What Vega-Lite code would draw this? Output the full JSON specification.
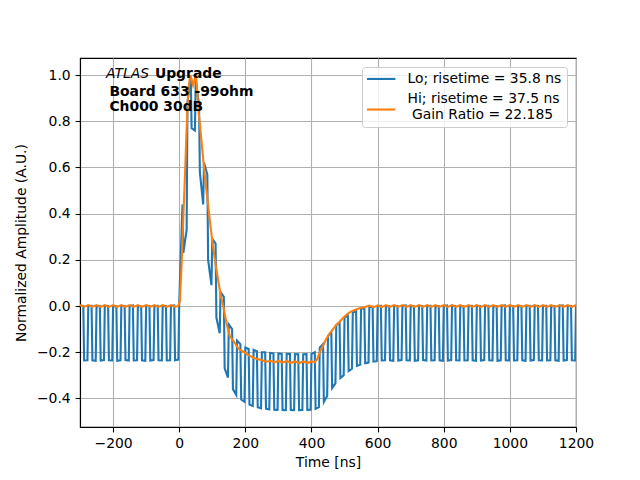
{
  "$schema": "https://vega.github.io/schema/vega-lite/v6.json",
  "width": 496,
  "height": 369,
  "autosize": {"type": "none"},
  "padding": {"left": 80, "top": 58, "right": 64, "bottom": 53},
  "background": "white",
  "config": {
    "font": "DejaVu Sans",
    "view": {"stroke": "black", "strokeWidth": 1.1},
    "axis": {
      "grid": true, "gridColor": "#b0b0b0", "gridWidth": 1.1,
      "domainColor": "black", "domainWidth": 1.1,
      "tickColor": "black", "tickWidth": 1.1, "tickSize": 4.9,
      "labelFont": "DejaVu Sans", "labelFontSize": 13.9, "labelColor": "black",
      "labelPadding": 4.9, "labelFlush": false, "labelOverlap": false,
      "titleFont": "DejaVu Sans", "titleFontSize": 13.9, "titleFontWeight": "normal", "titleColor": "black"
    }
  },
  "datasets": {
    "lo": [
      {"t":-300,"v":0.002},{"t":-290,"v":0},{"t":-287.5,"v":-0.236},{"t":-277.5,"v":-0.235},
      {"t":-275,"v":0},{"t":-265,"v":0.001},{"t":-262.5,"v":-0.235},{"t":-252.5,"v":-0.237},
      {"t":-250,"v":-0.001},{"t":-240,"v":0},{"t":-237.5,"v":-0.236},{"t":-227.5,"v":-0.234},
      {"t":-225,"v":0.001},{"t":-215,"v":0},{"t":-212.5,"v":-0.235},{"t":-202.5,"v":-0.236},
      {"t":-200,"v":0},{"t":-190,"v":-0.001},{"t":-187.5,"v":-0.237},{"t":-177.5,"v":-0.235},
      {"t":-175,"v":0.001},{"t":-165,"v":0},{"t":-162.5,"v":-0.234},{"t":-152.5,"v":-0.236},
      {"t":-150,"v":0},{"t":-140,"v":0.002},{"t":-137.5,"v":-0.236},{"t":-127.5,"v":-0.235},
      {"t":-125,"v":0},{"t":-115,"v":-0.001},{"t":-112.5,"v":-0.235},{"t":-102.5,"v":-0.237},
      {"t":-100,"v":0.001},{"t":-90,"v":0},{"t":-87.5,"v":-0.236},{"t":-77.5,"v":-0.234},
      {"t":-75,"v":0},{"t":-65,"v":0.001},{"t":-62.5,"v":-0.235},{"t":-52.5,"v":-0.236},
      {"t":-50,"v":-0.001},{"t":-40,"v":0},{"t":-37.5,"v":-0.236},{"t":-27.5,"v":-0.235},
      {"t":-25,"v":0},{"t":-15,"v":0.002},{"t":-12.5,"v":-0.235},{"t":-2.5,"v":-0.232},
      {"t":0,"v":0.01},{"t":10,"v":0.44},{"t":12.5,"v":0.23},{"t":22.5,"v":0.33},
      {"t":25,"v":0.88},{"t":35,"v":0.99},{"t":37.5,"v":0.77},{"t":47.5,"v":0.76},
      {"t":50,"v":0.98},{"t":60,"v":0.87},{"t":62.5,"v":0.58},{"t":72.5,"v":0.44},
      {"t":75,"v":0.62},{"t":85,"v":0.57},{"t":87.5,"v":0.2},{"t":97.5,"v":0.09},
      {"t":100,"v":0.29},{"t":110,"v":0.27},{"t":112.5,"v":-0.05},{"t":122.5,"v":-0.118},
      {"t":125,"v":0.06},{"t":135,"v":0.04},{"t":137.5,"v":-0.27},{"t":147.5,"v":-0.31},
      {"t":150,"v":-0.08},{"t":160,"v":-0.1},{"t":162.5,"v":-0.36},{"t":172.5,"v":-0.385},
      {"t":175,"v":-0.15},{"t":185,"v":-0.165},{"t":187.5,"v":-0.405},{"t":197.5,"v":-0.415},
      {"t":200,"v":-0.18},{"t":210,"v":-0.186},{"t":212.5,"v":-0.427},{"t":222.5,"v":-0.433},
      {"t":225,"v":-0.19},{"t":235,"v":-0.196},{"t":237.5,"v":-0.438},{"t":247.5,"v":-0.443},
      {"t":250,"v":-0.2},{"t":260,"v":-0.2},{"t":262.5,"v":-0.445},{"t":272.5,"v":-0.448},
      {"t":275,"v":-0.203},{"t":285,"v":-0.205},{"t":287.5,"v":-0.449},{"t":297.5,"v":-0.45},
      {"t":300,"v":-0.205},{"t":310,"v":-0.207},{"t":312.5,"v":-0.45},{"t":322.5,"v":-0.451},
      {"t":325,"v":-0.207},{"t":335,"v":-0.208},{"t":337.5,"v":-0.45},{"t":347.5,"v":-0.451},
      {"t":350,"v":-0.208},{"t":360,"v":-0.209},{"t":362.5,"v":-0.451},{"t":372.5,"v":-0.45},
      {"t":375,"v":-0.209},{"t":385,"v":-0.208},{"t":387.5,"v":-0.45},{"t":397.5,"v":-0.449},
      {"t":400,"v":-0.207},{"t":410,"v":-0.2},{"t":412.5,"v":-0.445},{"t":422.5,"v":-0.438},
      {"t":425,"v":-0.18},{"t":435,"v":-0.165},{"t":437.5,"v":-0.415},{"t":447.5,"v":-0.39},
      {"t":450,"v":-0.13},{"t":460,"v":-0.112},{"t":462.5,"v":-0.355},{"t":472.5,"v":-0.335},
      {"t":475,"v":-0.083},{"t":485,"v":-0.072},{"t":487.5,"v":-0.312},{"t":497.5,"v":-0.3},
      {"t":500,"v":-0.05},{"t":510,"v":-0.042},{"t":512.5,"v":-0.282},{"t":522.5,"v":-0.272},
      {"t":525,"v":-0.028},{"t":535,"v":-0.022},{"t":537.5,"v":-0.26},{"t":547.5,"v":-0.254},
      {"t":550,"v":-0.013},{"t":560,"v":-0.009},{"t":562.5,"v":-0.248},{"t":572.5,"v":-0.245},
      {"t":575,"v":-0.005},{"t":585,"v":-0.003},{"t":587.5,"v":-0.241},{"t":597.5,"v":-0.239},
      {"t":600,"v":0},{"t":610,"v":0.001},{"t":612.5,"v":-0.236},{"t":622.5,"v":-0.235},
      {"t":625,"v":-0.001},{"t":635,"v":0},{"t":637.5,"v":-0.235},{"t":647.5,"v":-0.237},
      {"t":650,"v":0.001},{"t":660,"v":0},{"t":662.5,"v":-0.236},{"t":672.5,"v":-0.234},
      {"t":675,"v":0},{"t":685,"v":0.002},{"t":687.5,"v":-0.235},{"t":697.5,"v":-0.236},
      {"t":700,"v":0},{"t":710,"v":-0.001},{"t":712.5,"v":-0.237},{"t":722.5,"v":-0.235},
      {"t":725,"v":0.001},{"t":735,"v":0},{"t":737.5,"v":-0.234},{"t":747.5,"v":-0.236},
      {"t":750,"v":0},{"t":760,"v":0.001},{"t":762.5,"v":-0.236},{"t":772.5,"v":-0.235},
      {"t":775,"v":-0.001},{"t":785,"v":0},{"t":787.5,"v":-0.235},{"t":797.5,"v":-0.237},
      {"t":800,"v":0},{"t":810,"v":0.002},{"t":812.5,"v":-0.236},{"t":822.5,"v":-0.234},
      {"t":825,"v":0.001},{"t":835,"v":0},{"t":837.5,"v":-0.235},{"t":847.5,"v":-0.236},
      {"t":850,"v":0},{"t":860,"v":-0.001},{"t":862.5,"v":-0.236},{"t":872.5,"v":-0.235},
      {"t":875,"v":0},{"t":885,"v":0.001},{"t":887.5,"v":-0.235},{"t":897.5,"v":-0.237},
      {"t":900,"v":0.001},{"t":910,"v":0},{"t":912.5,"v":-0.236},{"t":922.5,"v":-0.234},
      {"t":925,"v":0},{"t":935,"v":0.001},{"t":937.5,"v":-0.235},{"t":947.5,"v":-0.236},
      {"t":950,"v":-0.001},{"t":960,"v":0},{"t":962.5,"v":-0.237},{"t":972.5,"v":-0.235},
      {"t":975,"v":0},{"t":985,"v":0.002},{"t":987.5,"v":-0.235},{"t":997.5,"v":-0.236},
      {"t":1000,"v":0.001},{"t":1010,"v":0},{"t":1012.5,"v":-0.236},{"t":1022.5,"v":-0.235},
      {"t":1025,"v":0},{"t":1035,"v":-0.001},{"t":1037.5,"v":-0.235},{"t":1047.5,"v":-0.237},
      {"t":1050,"v":0},{"t":1060,"v":0.001},{"t":1062.5,"v":-0.236},{"t":1072.5,"v":-0.234},
      {"t":1075,"v":0.001},{"t":1085,"v":0},{"t":1087.5,"v":-0.235},{"t":1097.5,"v":-0.236},
      {"t":1100,"v":0},{"t":1110,"v":0.001},{"t":1112.5,"v":-0.236},{"t":1122.5,"v":-0.235},
      {"t":1125,"v":-0.001},{"t":1135,"v":0},{"t":1137.5,"v":-0.235},{"t":1147.5,"v":-0.237},
      {"t":1150,"v":0},{"t":1160,"v":0.002},{"t":1162.5,"v":-0.236},{"t":1172.5,"v":-0.234},
      {"t":1175,"v":0.001},{"t":1185,"v":0},{"t":1187.5,"v":-0.235},{"t":1197.5,"v":-0.236},
      {"t":1200,"v":0}
    ],
    "hi": [
      {"t":-300,"v":0.004},{"t":-287.5,"v":-0.004},{"t":-275,"v":0.004},{"t":-262.5,"v":-0.004},
      {"t":-250,"v":0.004},{"t":-237.5,"v":-0.004},{"t":-225,"v":0.004},{"t":-212.5,"v":-0.004},
      {"t":-200,"v":0.004},{"t":-187.5,"v":-0.004},{"t":-175,"v":0.004},{"t":-162.5,"v":-0.004},
      {"t":-150,"v":0.004},{"t":-137.5,"v":-0.004},{"t":-125,"v":0.004},{"t":-112.5,"v":-0.004},
      {"t":-100,"v":0.004},{"t":-87.5,"v":-0.004},{"t":-75,"v":0.004},{"t":-62.5,"v":-0.004},
      {"t":-50,"v":0.004},{"t":-37.5,"v":-0.004},{"t":-25,"v":0.004},{"t":-12.5,"v":-0.004},
      {"t":-3,"v":0},{"t":2,"v":0.02},{"t":7,"v":0.17},{"t":12,"v":0.37},{"t":17,"v":0.55},
      {"t":22,"v":0.75},{"t":27,"v":0.92},{"t":33,"v":1.0},{"t":37,"v":0.985},{"t":42,"v":0.955},
      {"t":46,"v":0.975},{"t":50,"v":1.0},{"t":54,"v":0.94},{"t":58,"v":0.85},{"t":65,"v":0.75},
      {"t":73,"v":0.63},{"t":80,"v":0.53},{"t":88,"v":0.43},{"t":95,"v":0.34},{"t":103,"v":0.25},
      {"t":110,"v":0.18},{"t":118,"v":0.11},{"t":125,"v":0.05},{"t":133,"v":0.0},{"t":143,"v":-0.075},
      {"t":153,"v":-0.13},{"t":160,"v":-0.145},{"t":168,"v":-0.16},{"t":176,"v":-0.178},{"t":184,"v":-0.19},
      {"t":194,"v":-0.198},{"t":204,"v":-0.207},{"t":212,"v":-0.215},{"t":219,"v":-0.22},{"t":228,"v":-0.226},
      {"t":237,"v":-0.23},{"t":250,"v":-0.234},{"t":262.5,"v":-0.241},{"t":275,"v":-0.237},{"t":287.5,"v":-0.244},
      {"t":300,"v":-0.238},{"t":312.5,"v":-0.245},{"t":325,"v":-0.239},{"t":337.5,"v":-0.246},{"t":350,"v":-0.24},
      {"t":362.5,"v":-0.247},{"t":375,"v":-0.24},{"t":387.5,"v":-0.247},{"t":400,"v":-0.24},{"t":410,"v":-0.244},
      {"t":418,"v":-0.228},{"t":425,"v":-0.2},{"t":435,"v":-0.172},{"t":445,"v":-0.142},{"t":455,"v":-0.12},
      {"t":465,"v":-0.1},{"t":475,"v":-0.082},{"t":485,"v":-0.068},{"t":497,"v":-0.05},{"t":510,"v":-0.033},
      {"t":522,"v":-0.022},{"t":535,"v":-0.015},{"t":547,"v":-0.009},{"t":560,"v":-0.005},
      {"t":575,"v":0.002},{"t":587.5,"v":-0.006},{"t":600,"v":0.003},{"t":612.5,"v":-0.005},
      {"t":625,"v":0.004},{"t":637.5,"v":-0.004},{"t":650,"v":0.004},{"t":662.5,"v":-0.004},
      {"t":675,"v":0.004},{"t":687.5,"v":-0.004},{"t":700,"v":0.004},{"t":712.5,"v":-0.004},
      {"t":725,"v":0.004},{"t":737.5,"v":-0.004},{"t":750,"v":0.004},{"t":762.5,"v":-0.004},
      {"t":775,"v":0.004},{"t":787.5,"v":-0.004},{"t":800,"v":0.004},{"t":812.5,"v":-0.004},
      {"t":825,"v":0.004},{"t":837.5,"v":-0.004},{"t":850,"v":0.004},{"t":862.5,"v":-0.004},
      {"t":875,"v":0.004},{"t":887.5,"v":-0.004},{"t":900,"v":0.004},{"t":912.5,"v":-0.004},
      {"t":925,"v":0.004},{"t":937.5,"v":-0.004},{"t":950,"v":0.004},{"t":962.5,"v":-0.004},
      {"t":975,"v":0.004},{"t":987.5,"v":-0.004},{"t":1000,"v":0.004},{"t":1012.5,"v":-0.004},
      {"t":1025,"v":0.004},{"t":1037.5,"v":-0.004},{"t":1050,"v":0.004},{"t":1062.5,"v":-0.004},
      {"t":1075,"v":0.004},{"t":1087.5,"v":-0.004},{"t":1100,"v":0.004},{"t":1112.5,"v":-0.004},
      {"t":1125,"v":0.004},{"t":1137.5,"v":-0.004},{"t":1150,"v":0.004},{"t":1162.5,"v":-0.004},
      {"t":1175,"v":0.004},{"t":1187.5,"v":-0.004},{"t":1200,"v":0.004}
    ]
  },
  "encoding": {
    "x": {
      "field": "t", "type": "quantitative",
      "scale": {"domain": [-300, 1200], "nice": false, "zero": false},
      "axis": {"title": "Time [ns]", "values": [-200, 0, 200, 400, 600, 800, 1000, 1200], "format": "d", "titlePadding": 5}
    },
    "y": {
      "field": "v", "type": "quantitative",
      "scale": {"domain": [-0.524, 1.074], "nice": false, "zero": false},
      "axis": {"title": "Normalized Amplitude (A.U.)", "values": [-0.4, -0.2, 0, 0.2, 0.4, 0.6, 0.8, 1.0], "format": ".1f", "titlePadding": 8}
    }
  },
  "layer": [
    {
      "data": {"name": "lo"},
      "mark": {"type": "line", "strokeWidth": 2.1, "clip": true},
      "encoding": {
        "color": {
          "datum": "Lo", "type": "nominal",
          "scale": {"domain": ["Lo", "Hi"], "range": ["#1f77b4", "#ff7f0e"]},
          "legend": {
            "title": null, "orient": "none", "legendX": 282, "legendY": 9,
            "symbolType": "M-2.84,0H2.84", "symbolSize": 100, "symbolStrokeWidth": 2.1,
            "symbolOffset": 7.25, "labelOffset": 19.4,
            "labelFont": "DejaVu Sans", "labelFontSize": 13.9, "labelColor": "black", "labelLimit": 400,
            "strokeColor": "#cccccc", "fillColor": "rgba(255,255,255,0.8)", "cornerRadius": 3,
            "padding": 5, "rowPadding": 5,
            "labelExpr": "datum.value == 'Lo' ? 'Lo; risetime = 35.8 ns' : ['Hi; risetime = 37.5 ns', '\u200b Gain Ratio = 22.185']",
            "encoding": {"symbols": {"y": {"value": {"expr": "datum.value == 'Hi' ? 17.5 : 6.95"}}}}
          }
        }
      }
    },
    {
      "data": {"name": "hi"},
      "mark": {"type": "line", "strokeWidth": 2.1, "clip": true},
      "encoding": {"color": {"datum": "Hi", "type": "nominal"}}
    },
    {
      "data": {"values": [{"t": -221.5, "v": 1.003, "label": "ATLAS"}]},
      "mark": {"type": "text", "align": "left", "baseline": "middle", "fontSize": 13.9, "fontStyle": "italic", "font": "DejaVu Sans", "color": "black"},
      "encoding": {"text": {"field": "label"}}
    },
    {
      "data": {"values": [
        {"t": -73.5, "v": 1.003, "label": "Upgrade"},
        {"t": -211, "v": 0.928, "label": "Board 633 -99ohm"},
        {"t": -211, "v": 0.863, "label": "Ch000 30dB"}
      ]},
      "mark": {"type": "text", "align": "left", "baseline": "middle", "fontSize": 13.9, "fontWeight": "bold", "font": "DejaVu Sans", "color": "black"},
      "encoding": {"text": {"field": "label"}}
    }
  ]
}
